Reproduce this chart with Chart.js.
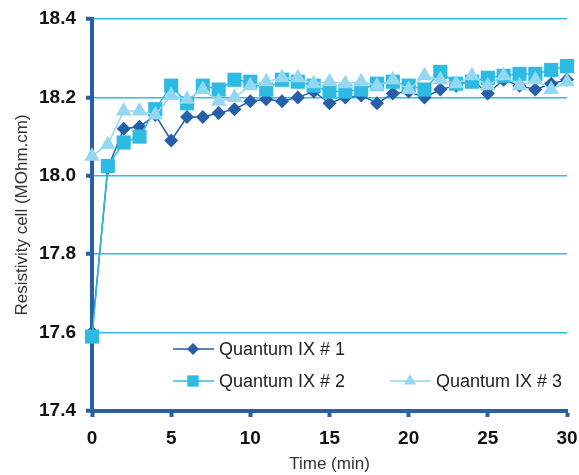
<!DOCTYPE html>
<html>
<head>
<meta charset="utf-8">
<script src="https://cdn.jsdelivr.net/npm/chart.js@4"></script>
<style>
  html, body { margin: 0; padding: 0; background: #fff; }
  #wrap { width: 579px; height: 475px; }
</style>
</head>
<body>
<div id="wrap"><canvas id="myChart" width="579" height="475"></canvas></div>
<script>
// time in minutes
var times = [0,1,2,3,4,5,6,7,8,9,10,11,12,13,14,15,16,17,18,19,20,21,22,23,24,25,26,27,28,29,30]

var quantum1 = [17.6, 18.02, 18.12, 18.125, 18.155, 18.09, 18.15, 18.15, 18.16, 18.17, 18.19, 18.195, 18.19, 18.2, 18.215, 18.185,
                18.2, 18.205, 18.185, 18.21, 18.215, 18.2, 18.22, 18.23, 18.245, 18.21, 18.245, 18.23, 18.22, 18.235, 18.245]
var quantum2 = [17.59, 18.025, 18.085, 18.1, 18.17, 18.23, 18.185, 18.23, 18.22, 18.245, 18.24, 18.22, 18.245, 18.24, 18.23, 18.215,
                18.215, 18.22, 18.235, 18.24, 18.23, 18.22, 18.265, 18.235, 18.24, 18.25, 18.255, 18.26, 18.26, 18.27, 18.28]
var quantum3 = [18.05, 18.08, 18.165, 18.165, 18.155, 18.205, 18.195, 18.22, 18.19, 18.2, 18.23, 18.24, 18.25, 18.25, 18.235, 18.24,
                18.235, 18.24, 18.23, 18.245, 18.22, 18.255, 18.245, 18.235, 18.255, 18.23, 18.255, 18.23, 18.245, 18.22, 18.24]

var seriesNames = ['Quantum IX # 1', 'Quantum IX # 2', 'Quantum IX # 3']

var DARK = '#2660a9'
var MID = '#2dbbe4'
var LIGHT = '#93d7f0'
var AXIS = '#2a5fa6'
var GRID = '#2fbde8'
var FONT = '"Liberation Sans", Arial, sans-serif'

function pts(ys) {
    return times.map(function (t, i) { return { x: t, y: ys[i] } })
}

// legend drawn by hand: line + marker + label
var legendPlugin = {
    id: 'lineLegend',
    afterDatasetsDraw: function (chart) {
        var ctx = chart.ctx
        var a = chart.chartArea
        var items = [
            { x: a.left + 81, y: a.top + 330, color: DARK, style: 'rectRot', r: 6 },
            { x: a.left + 81, y: a.top + 362, color: MID, style: 'rect', r: 8 },
            { x: a.left + 298, y: a.top + 362, color: LIGHT, style: 'triangle', r: 7 }
        ]
        ctx.save()
        ctx.font = '18px ' + FONT
        ctx.textBaseline = 'middle'
        items.forEach(function (it, i) {
            ctx.strokeStyle = it.color
            ctx.lineWidth = 1.5
            ctx.beginPath()
            ctx.moveTo(it.x, it.y)
            ctx.lineTo(it.x + 41, it.y)
            ctx.stroke()
            ctx.fillStyle = it.color
            Chart.helpers.drawPoint(ctx, { pointStyle: it.style, radius: it.r, borderWidth: 0 }, it.x + 20, it.y)
            ctx.fillStyle = '#222'
            ctx.fillText(seriesNames[i], it.x + 46, it.y + 1)
        })
        ctx.restore()
    }
}

var ctx = document.getElementById('myChart').getContext('2d')
var chart = new Chart(ctx, {
    type: 'line',
    data: {
        datasets: [{
            label: seriesNames[0],
            data: pts(quantum1),
            borderColor: DARK,
            backgroundColor: DARK,
            borderWidth: 1.5,
            pointStyle: 'rectRot',
            pointRadius: 7,
            pointBorderWidth: 0,
            clip: false,
            order: 3
        }, {
            label: seriesNames[1],
            data: pts(quantum2),
            borderColor: MID,
            backgroundColor: MID,
            borderWidth: 1.5,
            pointStyle: 'rect',
            pointRadius: 10,
            pointBorderWidth: 0,
            clip: false,
            order: 2
        }, {
            label: seriesNames[2],
            data: pts(quantum3),
            borderColor: LIGHT,
            backgroundColor: LIGHT,
            borderWidth: 1.5,
            pointStyle: 'triangle',
            pointRadius: 9,
            pointBorderWidth: 0,
            clip: false,
            order: 1
        }]
    },
    options: {
        responsive: false,
        animation: false,
        layout: { autoPadding: false, padding: 0 },
        plugins: {
            legend: { display: false },
            tooltip: { enabled: false }
        },
        scales: {
            x: {
                type: 'linear',
                min: 0,
                max: 30,
                ticks: { stepSize: 5, color: '#111', padding: 10,
                         font: { family: FONT, size: 19, weight: 'bold' } },
                grid: { drawOnChartArea: false, drawTicks: true, tickLength: 6, tickColor: AXIS, tickWidth: 4 },
                border: { color: AXIS, width: 4 },
                title: { display: true, text: 'Time (min)', color: '#333', padding: 0,
                         font: { family: FONT, size: 17 } },
                afterFit: function (s) {
                    s.height = 64
                    s.paddingLeft = 0
                    s.paddingRight = 12
                }
            },
            y: {
                min: 17.4,
                max: 18.4,
                ticks: { stepSize: 0.2, color: '#111', padding: 10,
                         callback: function (v) { return v.toFixed(1) },
                         font: { family: FONT, size: 19, weight: 'bold' } },
                grid: { color: GRID, lineWidth: 1.5, tickLength: 6, tickColor: AXIS, tickWidth: 4 },
                border: { color: AXIS, width: 4 },
                title: { display: true, text: 'Resistivity cell (MOhm.cm)', color: '#333', padding: { top: 12, bottom: 0 },
                         font: { family: FONT, size: 17 } },
                afterFit: function (s) {
                    s.width = 92
                    s.paddingTop = 19
                    s.paddingBottom = 0
                }
            }
        }
    },
    plugins: [legendPlugin]
})
</script>
</body>
</html>
